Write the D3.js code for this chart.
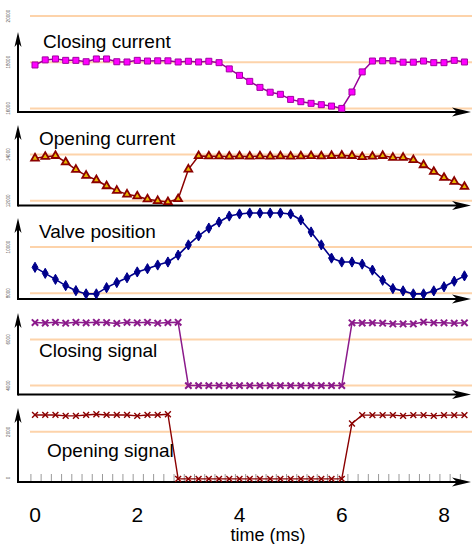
<!DOCTYPE html>
<html><head><meta charset="utf-8">
<script src="https://cdn.jsdelivr.net/npm/d3@7"></script>
<style>body{margin:0;background:#fff}svg{display:block}</style>
</head><body><svg id="c" width="472" height="544"></svg>
<script>
// ---- data ----
const times = [0,0.2,0.4,0.6,0.8,1.0,1.2,1.4,1.6,1.8,2.0,2.2,2.4,2.6,2.8,3.0,3.2,3.4,3.6,3.8,4.0,4.2,4.4,4.6,4.8,5.0,5.2,5.4,5.6,5.8,6.0,6.2,6.4,6.6,6.8,7.0,7.2,7.4,7.6,7.8,8.0,8.2,8.4];
const closingCurrent = [17880,18100,18140,18080,18080,18020,18140,18140,18020,18010,18080,18050,18060,18060,18010,18040,18010,18040,17980,17710,17430,17170,16910,16700,16610,16390,16290,16220,16160,16100,16000,16710,17580,18050,18060,18060,18000,18000,18050,17980,17980,18080,18010];
const openingCurrent = [13840,13910,13950,13670,13350,13090,12900,12640,12440,12280,12200,12070,12000,11950,12080,13360,13940,13930,13930,13920,13930,13920,13930,13920,13930,13920,13930,13940,13930,13950,13960,13950,13900,13920,13950,13870,13870,13770,13550,13260,13000,12830,12610];
const valvePosition = [9120,8860,8600,8330,8110,7970,7970,8240,8460,8670,8920,9060,9220,9350,9650,10090,10480,10820,11080,11340,11430,11470,11470,11470,11470,11430,11170,10650,10090,9520,9350,9350,9260,9000,8560,8200,8100,7970,7970,8100,8280,8520,8750];
const closingSignal = [6730,6710,6740,6700,6740,6720,6740,6730,6690,6740,6720,6740,6700,6730,6740,4000,4000,4000,4000,4000,4000,4000,4000,4000,4000,4000,4000,4000,4000,4000,4000,6720,6710,6720,6700,6670,6670,6670,6750,6720,6720,6700,6720];
const openingSignal = [2730,2730,2730,2690,2690,2730,2760,2730,2730,2730,2690,2730,2730,2760,-40,-40,-40,-40,-40,-40,-40,-40,-40,-40,-40,-40,-40,-40,-40,-40,-40,2360,2720,2720,2720,2720,2690,2720,2720,2690,2720,2720,2720];
const seriesNames = ["Closing current","Opening current","Valve position","Closing signal","Opening signal"];
const yTickValues = [0,2000,4000,6000,8000,10000,12000,14000,16000,18000,20000];
const gridValues = [2000,4000,6000,8000,10000,12000,14000,16000,18000,20000];
const xTickValues = [0,2,4,6,8];
const xLabel = "time (ms)";

// ---- layout ----
const W = 472, H = 544;
const svg = d3.select("#c");
const x = d3.scaleLinear().domain([0, 8]).range([35, 444]);
const y = d3.scaleLinear().domain([0, 20000]).range([478, 16]);
const axisX0 = 18, axisX1 = 471;
const panels = [
  {axisY: 112, topY: 32, labelX: 43, labelY: 48},
  {axisY: 205.5, topY: 125, labelX: 39, labelY: 145},
  {axisY: 299, topY: 218, labelX: 39, labelY: 238},
  {axisY: 394.5, topY: 313, labelX: 39, labelY: 357},
  {axisY: 482, topY: 408, labelX: 47, labelY: 457}
];
const styles = [
  {line: "#990099", symbol: d3.symbolSquare, size: 36, fill: "#ff00ff", stroke: "#a000a0", sw: 1, lw: 1.5},
  {line: "#8b0000", symbol: d3.symbolTriangle, size: 26, fill: "#e8b800", stroke: "#8b0000", sw: 1.8, lw: 1.5},
  {line: "#00008b", symbol: d3.symbolDiamond, size: 30, fill: "#00008b", stroke: "#00008b", sw: 1, lw: 1.6},
  {line: "#8b1a8b", symbol: d3.symbolX, size: 28, fill: "none", stroke: "#8b1a8b", sw: 2, lw: 1.5},
  {line: "#8b0000", symbol: d3.symbolX, size: 24, fill: "none", stroke: "#8b0000", sw: 1.4, lw: 1.4}
];
const allSeries = [closingCurrent, openingCurrent, valvePosition, closingSignal, openingSignal];

// gridlines
svg.append("g").selectAll("line").data(gridValues).join("line")
  .attr("x1", 30).attr("x2", W).attr("y1", d => y(d)).attr("y2", d => y(d))
  .attr("stroke", "#fdd3aa").attr("stroke-width", 2);

// tiny rotated y tick labels
svg.append("g").selectAll("text").data(yTickValues).join("text")
  .attr("transform", d => `translate(9.5,${y(d)}) rotate(-90)`)
  .attr("text-anchor", "middle")
  .attr("font-family", "Liberation Sans, Arial, sans-serif")
  .attr("font-size", 4.6).attr("fill", "#555")
  .text(d => d);

// minor x ticks on bottom panel
const minorTicks = d3.range(-0.08, 8.4, 0.2);
svg.append("g").selectAll("line").data(minorTicks).join("line")
  .attr("x1", d => x(d)).attr("x2", d => x(d))
  .attr("y1", 474).attr("y2", 482)
  .attr("stroke", "#999").attr("stroke-width", 1);

// panel axes
const axG = svg.append("g");
panels.forEach(p => {
  axG.append("line").attr("x1", axisX0).attr("x2", axisX1 - 8).attr("y1", p.axisY).attr("y2", p.axisY)
    .attr("stroke", "#000").attr("stroke-width", 2);
  axG.append("line").attr("x1", axisX0).attr("x2", axisX0).attr("y1", p.axisY + 1).attr("y2", p.topY + 6)
    .attr("stroke", "#000").attr("stroke-width", 2);
  const t = axisX1, ay = p.axisY;
  axG.append("path").attr("d", `M${t},${ay} L${t - 19},${ay - 4.5} L${t - 14},${ay} L${t - 19},${ay + 4.5} Z`).attr("fill", "#000");
  const ty = p.topY;
  axG.append("path").attr("d", `M${axisX0},${ty} L${axisX0 - 3.5},${ty + 15} L${axisX0},${ty + 11} L${axisX0 + 3.5},${ty + 15} Z`).attr("fill", "#000");
});

// series
allSeries.forEach((vals, i) => {
  const st = styles[i];
  const pts = times.map((t, k) => [t, vals[k]]);
  const g = svg.append("g");
  g.append("path").datum(pts)
    .attr("d", d3.line().x(d => x(d[0])).y(d => y(d[1])))
    .attr("fill", "none").attr("stroke", st.line).attr("stroke-width", st.lw).attr("stroke-linejoin", "round");
  g.selectAll("path.m").data(pts).join("path").attr("class", "m")
    .attr("transform", d => `translate(${x(d[0])},${y(d[1])})`)
    .attr("d", d3.symbol().type(st.symbol).size(st.size))
    .attr("fill", st.fill).attr("stroke", st.stroke).attr("stroke-width", st.sw);
});

// panel labels
svg.append("g").selectAll("text").data(seriesNames).join("text")
  .attr("x", (d, i) => panels[i].labelX).attr("y", (d, i) => panels[i].labelY)
  .attr("font-family", "Liberation Sans, Arial, sans-serif").attr("font-size", 19).attr("fill", "#000")
  .text(d => d);

// x tick labels
svg.append("g").selectAll("text").data(xTickValues).join("text")
  .attr("x", d => x(d)).attr("y", 522).attr("text-anchor", "middle")
  .attr("font-family", "Liberation Sans, Arial, sans-serif").attr("font-size", 21).attr("fill", "#000")
  .text(d => d);

svg.append("text").attr("x", 268).attr("y", 541).attr("text-anchor", "middle")
  .attr("font-family", "Liberation Sans, Arial, sans-serif").attr("font-size", 18).attr("fill", "#000")
  .text(xLabel);
</script></body></html>
